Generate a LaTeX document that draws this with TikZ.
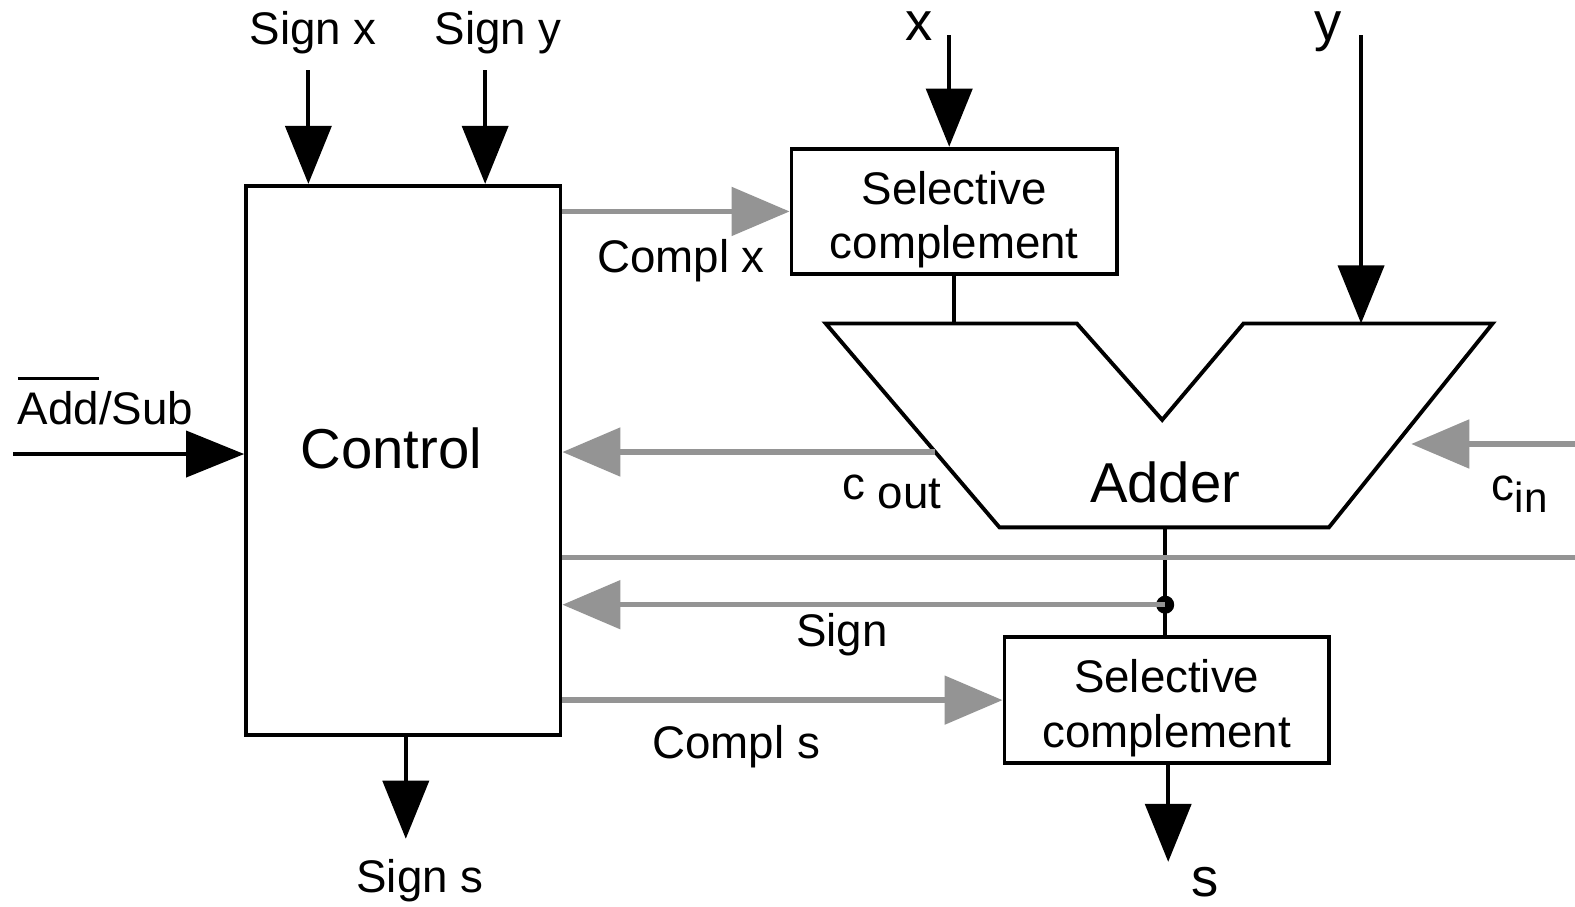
\documentclass[tikz,border=0pt]{standalone}
\usepackage{fontspec}
\setmainfont{Liberation Sans}
\usetikzlibrary{arrows.meta,positioning,calc}
\definecolor{ctlgray}{RGB}{148,148,148}
\newsavebox\barbox
\newcommand{\barover}[1]{\sbox\barbox{#1}\rlap{\rule[12.6pt]{\wd\barbox}{0.9pt}}\usebox\barbox}

\begin{document}
\begin{tikzpicture}[
x=1.0045cm,y=1.0045cm,
blk/.style={
  draw,
  line width=1.1pt,
  inner sep=0pt
},
lbl/.style={
  inner sep=0pt,
  font=\fontsize{13}{15.5}\selectfont
},
twoline/.style={
  lbl,
  align=center,
  yshift=-0.8mm
},
big/.style={
  inner sep=0pt,
  font=\fontsize{16}{20}\selectfont
},
wire/.style={
  line width=1.1pt
},
sig/.style={
  line width=1.1pt,
  -{Triangle[length=5.8mm,width=4.6mm]}
},
ctlline/.style={
  draw=ctlgray,
  line width=1.5pt
},
ctlarr/.style={
  ctlline,
  -{Triangle[length=5.8mm,width=4.8mm]}
}
]
\useasboundingbox (0,0) rectangle (15.68,9.02);

\node[blk,minimum width=3.144cm,minimum height=5.495cm,
  label={[big,xshift=-1.2mm,yshift=1.2mm]center:Control}] 
  (ctrl) at (4.015,4.435) {};
\node[blk,minimum width=3.255cm,minimum height=1.256cm,
  label={[twoline]center:Selective\\complement}] 
  (sel1) at (9.50,6.915) {};
\node[blk,minimum width=3.245cm,minimum height=1.266cm,
  label={[twoline]center:Selective\\complement}] 
  (sel2) at (11.615,2.05) {};

\coordinate (atl) at (8.22,5.80);
\coordinate (avl) at (10.72,5.80);
\coordinate (avb) at (11.57,4.84);
\coordinate (avr) at (12.38,5.80);
\coordinate (atr) at (14.86,5.80);
\coordinate (abr) at (13.23,3.77);
\coordinate (abl) at (9.95,3.77);
\draw[wire,line join=miter] (atl) -- (avl) -- (avb) -- (avr) -- (atr) -- (abr) -- (abl) -- cycle;
\node[big] (adder) at (11.60,4.22) {Adder};

\node[lbl] (signx) at (3.12,8.69) {Sign x};
\node[lbl] (signy) at (4.96,8.69) {Sign y};
\node[big,font=\fontsize{15.5}{18}\selectfont] (xlbl) at (9.15,8.76) {x};
\node[big,font=\fontsize{15.5}{18}\selectfont] (ylbl) at (13.22,8.70) {y};
\node[lbl] (addsub) at (1.05,5.03) {\barover{Add}/Sub};
\node[lbl] (complx) at (6.78,6.42) {Compl x};
\node[lbl] (cout) at (8.88,4.12) {c \raisebox{-2.5pt}{out}};
\node[lbl] (cin) at (15.13,4.10) {c\raisebox{-3.5pt}{\fontsize{12}{14}\selectfont in}};
\node[lbl] (sign) at (8.38,2.70) {Sign};
\node[lbl] (compls) at (7.33,1.59) {Compl s};
\node[lbl] (signs) at (4.18,0.25) {Sign s};
\node[big,font=\fontsize{15.5}{18}\selectfont] (slbl) at (12.00,0.24) {s};

\coordinate (sx) at (3.07,8.32);
\coordinate (sy) at (4.83,8.32);
\coordinate (xin) at (9.45,8.67);
\coordinate (yin) at (13.55,8.67);
\coordinate (yend) at (13.55,5.80);
\coordinate (asin) at (0.13,4.50);
\coordinate (cx) at (9.31,4.52);
\coordinate (cinr) at (15.68,4.60);
\coordinate (cint) at (14.05,4.60);
\coordinate (busr) at (15.68,3.47);
\coordinate (aout) at (11.60,3.77);
\coordinate (sgn) at (11.60,3.00);
\coordinate (ss) at (4.04,0.67);
\coordinate (sout) at (11.63,0.44);

\draw[sig] (sx) -- (sx |- ctrl.north);
\draw[sig] (sy) -- (sy |- ctrl.north);
\draw[sig] (xin) -- (xin |- sel1.north);
\draw[sig] (yin) -- (yend);
\draw[sig] (asin) -- (asin -| ctrl.west);
\draw[sig] (ss |- ctrl.south) -- (ss);
\draw[sig] (sout |- sel2.south) -- (sout);

\draw[wire] (sel1.south) -- (sel1.south |- atl);
\draw[wire] (aout) -- (aout |- sel2.north);
\fill (sgn) circle (0.09);

\draw[ctlarr] (ctrl.east |- sel1.west) -- (sel1.west);
\draw[ctlarr] (cx) -- (cx -| ctrl.east);
\draw[ctlarr] (cinr) -- (cint);
\draw[ctlline] (busr -| ctrl.east) -- (busr);
\draw[ctlarr] (sgn) -- (sgn -| ctrl.east);
\draw[ctlarr] (ctrl.east |- sel2.west) -- (sel2.west);
\end{tikzpicture}
\end{document}
